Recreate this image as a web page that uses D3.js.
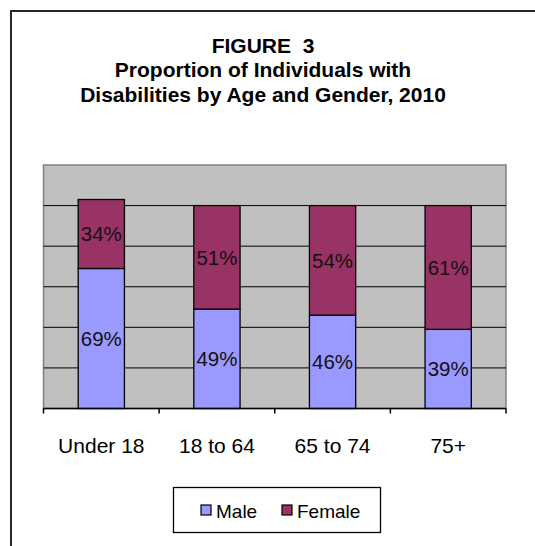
<!DOCTYPE html>
<html>
<head>
<meta charset="utf-8">
<script src="https://cdn.jsdelivr.net/npm/d3@7/dist/d3.min.js"></script>
<style>
  html, body { margin: 0; padding: 0; background: #fff; }
  svg { display: block; font-family: Arial, "Liberation Sans", sans-serif; }
  text { white-space: pre; }
</style>
</head>
<body>
<svg id="chart" width="535" height="546"></svg>
<script>
// Age groups and the share of each gender within them (percent)
const categories = ["Under 18", "18 to 64", "65 to 74", "75+"];
const maleValues = [69, 49, 46, 39];
const femaleValues = [34, 51, 54, 61];
const seriesNames = ["Male", "Female"];
const seriesColors = ["#9999FF", "#993366"];
const titleLines = ["FIGURE  3", "Proportion of Individuals with", "Disabilities by Age and Gender, 2010"];
const gridTicks = [0, 20, 40, 60, 80, 100, 120];

const svg = d3.select("#chart");

// outer frame
svg.append("rect")
  .attr("x", 11).attr("y", 11)
  .attr("width", 540).attr("height", 560)
  .attr("fill", "none").attr("stroke", "#111").attr("stroke-width", 1.8);

// title
svg.append("g").selectAll("text").data(titleLines).join("text")
  .attr("x", 263)
  .attr("y", (d, i) => 52.5 + i * 24.5)
  .attr("text-anchor", "middle")
  .attr("font-weight", "bold")
  .attr("font-size", 21)
  .attr("fill", "#000")
  .text(d => d);

const plot = { left: 43.5, top: 165, right: 506, bottom: 408.5 };

const x = d3.scaleBand()
  .domain(categories)
  .range([plot.left, plot.right])
  .paddingInner(0.6)
  .paddingOuter(0.3);

const y = d3.scaleLinear()
  .domain([0, 120])
  .range([plot.bottom, plot.top]);

// plot background
svg.append("rect")
  .attr("x", plot.left).attr("y", plot.top)
  .attr("width", plot.right - plot.left).attr("height", plot.bottom - plot.top)
  .attr("fill", "#C0C0C0").attr("stroke", "#808080").attr("stroke-width", 1.5);

// horizontal gridlines
svg.append("g").selectAll("line").data(gridTicks.filter(t => t > 0 && t < 120)).join("line")
  .attr("x1", plot.left).attr("x2", plot.right)
  .attr("y1", d => y(d)).attr("y2", d => y(d))
  .attr("stroke", "#000").attr("stroke-width", 1);

// stacked bars
const rows = categories.map((c, i) => ({ category: c, Male: maleValues[i], Female: femaleValues[i] }));
const stacked = d3.stack().keys(seriesNames)(rows);

const layers = svg.append("g").selectAll("g").data(stacked).join("g")
  .attr("fill", (d, i) => seriesColors[i]);

layers.selectAll("rect").data(d => d).join("rect")
  .attr("x", d => x(d.data.category))
  .attr("width", x.bandwidth())
  .attr("y", d => y(d[1]))
  .attr("height", d => y(d[0]) - y(d[1]))
  .attr("stroke", "#000").attr("stroke-width", 1.3);

// value labels centred in each segment
layers.selectAll("text").data(d => d).join("text")
  .attr("x", d => x(d.data.category) + x.bandwidth() / 2)
  .attr("y", d => (y(d[0]) + y(d[1])) / 2)
  .attr("dy", "0.36em")
  .attr("text-anchor", "middle")
  .attr("font-size", 20.5)
  .attr("fill", "#111")
  .text(function (d) {
    const key = d3.select(this.parentNode).datum().key;
    return d.data[key] + "%";
  });

// category axis
const xAxis = svg.append("g")
  .attr("transform", `translate(0,${plot.bottom})`);
xAxis.append("line")
  .attr("x1", plot.left).attr("x2", plot.right)
  .attr("stroke", "#000").attr("stroke-width", 1.5);
const boundaries = d3.range(categories.length + 1).map(i => plot.left + i * (plot.right - plot.left) / categories.length);
xAxis.selectAll("line.tick").data(boundaries).join("line")
  .attr("class", "tick")
  .attr("x1", d => d).attr("x2", d => d)
  .attr("y1", 0).attr("y2", 5)
  .attr("stroke", "#000").attr("stroke-width", 1.5);
xAxis.selectAll("text").data(categories).join("text")
  .attr("x", d => x(d) + x.bandwidth() / 2)
  .attr("y", 44)
  .attr("text-anchor", "middle")
  .attr("font-size", 21)
  .attr("fill", "#000")
  .text(d => d);

// legend
const legend = svg.append("g");
legend.append("rect")
  .attr("x", 173.5).attr("y", 487.5)
  .attr("width", 207).attr("height", 45)
  .attr("fill", "#fff").attr("stroke", "#000").attr("stroke-width", 1.3);
const legendX = [201, 282];
const items = legend.selectAll("g").data(seriesNames).join("g")
  .attr("transform", (d, i) => `translate(${legendX[i]},505)`);
items.append("rect")
  .attr("width", 10).attr("height", 10)
  .attr("fill", (d, i) => seriesColors[i])
  .attr("stroke", "#000").attr("stroke-width", 1.2);
items.append("text")
  .attr("x", 15).attr("y", 13)
  .attr("font-size", 19)
  .attr("fill", "#000")
  .text(d => d);
</script>
</body>
</html>
